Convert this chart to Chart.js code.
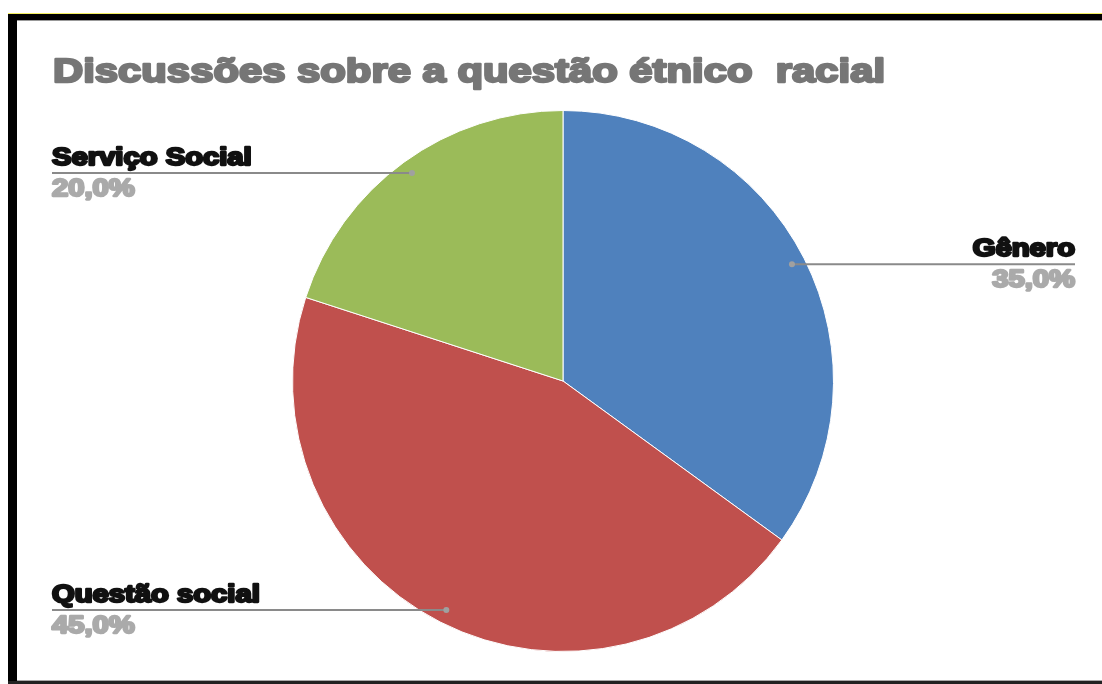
<!DOCTYPE html>
<html>
<head>
<meta charset="utf-8">
<script src="https://cdn.jsdelivr.net/npm/chart.js@4.4.1/dist/chart.umd.min.js"></script>
<style>
html,body{margin:0;padding:0;background:#fff;}
#wrap{width:1102px;height:684px;position:relative;}
</style>
</head>
<body>
<div id="wrap"><canvas id="c" width="1102" height="684"></canvas></div>
<script>
const chartTitle = 'Discussões sobre a questão étnico  racial';
const categories = ['Gênero', 'Questão social', 'Serviço Social'];
const values = [35, 45, 20];
const colors = ['#4f81bd', '#c0504d', '#9bbb59'];

function fmtPct(v, total) {
  return (v / total * 100).toFixed(1).replace('.', ',') + '%';
}

function drawFitted(ctx, text, x, y, size, targetW, align, color, weight) {
  ctx.save();
  ctx.font = 'bold ' + size + 'px "Liberation Sans", Arial, sans-serif';
  const w = ctx.measureText(text).width;
  const sx = targetW / w;
  ctx.fillStyle = color;
  ctx.strokeStyle = color;
  ctx.lineWidth = size * weight;
  ctx.lineJoin = 'round';
  ctx.textBaseline = 'alphabetic';
  ctx.textAlign = 'left';
  const left = align === 'right' ? x - targetW : x;
  ctx.translate(left, y);
  ctx.scale(sx, 1);
  ctx.fillText(text, 0, 0);
  ctx.strokeText(text, 0, 0);
  ctx.restore();
}

const framePlugin = {
  id: 'frame',
  beforeDraw(chart) {
    const ctx = chart.ctx;
    ctx.save();
    ctx.fillStyle = '#fff';
    ctx.fillRect(0, 0, chart.width, chart.height);
    ctx.fillStyle = '#f4f060';
    ctx.fillRect(8, 13, 1094, 1);
    ctx.fillStyle = '#000';
    ctx.fillRect(8, 14, 1094, 6);
    ctx.fillStyle = '#999';
    ctx.fillRect(17, 20, 1085, 1);
    ctx.fillStyle = '#000';
    ctx.fillRect(8, 14, 9, 670);
    ctx.fillStyle = '#222';
    ctx.fillRect(8, 681, 1094, 3);
    ctx.fillStyle = '#aaa';
    ctx.fillRect(17, 680, 1085, 1);
    ctx.restore();
    drawFitted(ctx, chartTitle, 53, 82, 34, 832, 'left', '#767676', 0.07);
  }
};

const labelPlugin = {
  id: 'sliceLabels',
  afterDatasetsDraw(chart) {
    const ctx = chart.ctx;
    const meta = chart.getDatasetMeta(0);
    const data = chart.data.datasets[0].data;
    const total = data.reduce((a, b) => a + b, 0);
    meta.data.forEach((arc, i) => {
      const p = arc.getProps(['x', 'y', 'startAngle', 'endAngle', 'outerRadius'], true);
      const mid = (p.startAngle + p.endAngle) / 2;
      const r = p.outerRadius * 0.95;
      const dx = p.x + Math.cos(mid) * r;
      const dy = p.y + Math.sin(mid) * r;
      const right = Math.cos(mid) > 0;
      const endX = right ? 1075 : 52;
      ctx.save();
      ctx.strokeStyle = '#8a8a8a';
      ctx.lineWidth = 2;
      ctx.beginPath();
      ctx.moveTo(dx, dy);
      ctx.lineTo(endX, dy);
      ctx.stroke();
      ctx.fillStyle = '#a0a0a0';
      ctx.beginPath();
      ctx.arc(dx, dy, 3, 0, Math.PI * 2);
      ctx.fill();
      ctx.restore();
      const name = chart.data.labels[i];
      const pct = fmtPct(data[i], total);
      ctx.save();
      ctx.font = 'bold 23px "Liberation Sans", Arial, sans-serif';
      const nw = ctx.measureText(name).width * 1.27;
      const vw = ctx.measureText(pct).width * 1.27;
      ctx.restore();
      drawFitted(ctx, name, endX, dy - 8, 23, nw, right ? 'right' : 'left', '#111', 0.1);
      drawFitted(ctx, pct, endX, dy + 23, 23, vw, right ? 'right' : 'left', '#aaaaaa', 0.1);
    });
  }
};

new Chart(document.getElementById('c'), {
  type: 'pie',
  data: {
    labels: categories,
    datasets: [{
      data: values,
      backgroundColor: colors,
      borderColor: '#ffffff',
      borderWidth: 1
    }]
  },
  options: {
    responsive: false,
    animation: false,
    layout: { padding: { top: 110, bottom: 32, left: 24, right: 0 } },
    plugins: {
      legend: { display: false },
      tooltip: { enabled: false },
      title: { display: false }
    }
  },
  plugins: [framePlugin, labelPlugin]
});
</script>
</body>
</html>
